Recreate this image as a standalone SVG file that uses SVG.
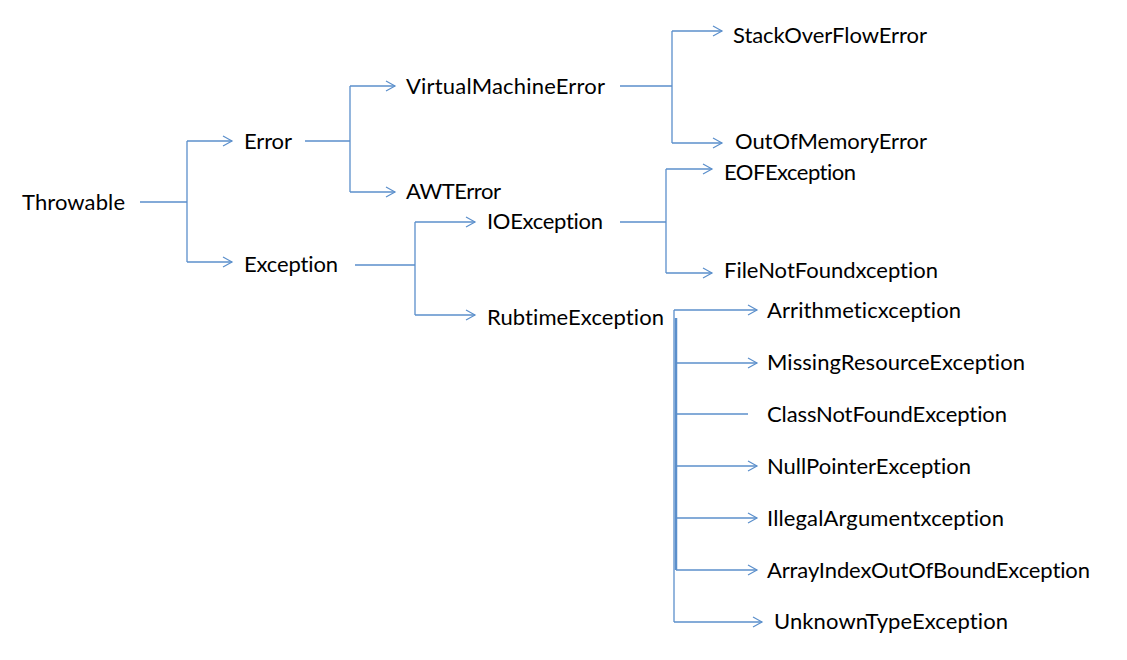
<svg xmlns="http://www.w3.org/2000/svg" width="1127" height="660" viewBox="0 0 1127 660">
<defs>
<marker id="arr" markerWidth="12" markerHeight="12" refX="10" refY="6" orient="auto" markerUnits="userSpaceOnUse">
<path d="M1,1 L10,6 L1,11" fill="none" stroke="#5b8fcb" stroke-width="1.2"/>
</marker>
<style>
.t{font-family:Lato,"Open Sans","Liberation Sans",sans-serif;font-size:22px;fill:#000;font-variant-ligatures:none;font-feature-settings:"liga" 0}
.c{fill:none;stroke:#5b8fcb;stroke-width:1.3}
.ca{fill:none;stroke:#5b8fcb;stroke-width:1.3;marker-end:url(#arr)}
</style>
</defs>
<rect width="1127" height="660" fill="#fff"/>
<g id="connectors">
<path class="c" d="M140,202 H187 M187,141 V262"/>
<path class="ca" d="M187,141 H232"/>
<path class="ca" d="M187,262 H232"/>
<path class="c" d="M305,141 H350 M350,86 V192"/>
<path class="ca" d="M350,86 H395"/>
<path class="ca" d="M350,192 H395"/>
<path class="c" d="M620,86 H672 M672,31 V143"/>
<path class="ca" d="M672,31 H722"/>
<path class="ca" d="M672,143 H722"/>
<path class="c" d="M355,265 H415 M415,222 V315"/>
<path class="ca" d="M415,222 H475"/>
<path class="ca" d="M415,315 H475"/>
<path class="c" d="M620,222 H666 M666,169 V273"/>
<path class="ca" d="M666,169 H712"/>
<path class="ca" d="M666,273 H712"/>
<path class="c" d="M674,310 V622"/>
<path class="c" d="M676,318 V570" style="stroke-width:2.5"/>
<path class="ca" d="M674,310 H757"/>
<path class="ca" d="M676,363 H757"/>
<path class="c" d="M676,414 H748"/>
<path class="ca" d="M676,466 H757"/>
<path class="ca" d="M676,518 H757"/>
<path class="ca" d="M676,570 H757"/>
<path class="ca" d="M674,622 H762"/>
</g>
<g id="throwable"><text class="t" x="22" y="210" textLength="103">Throwable</text></g>
<g id="error"><text class="t" x="244" y="149" textLength="48">Error</text></g>
<g id="virtualmachineerror"><text class="t" x="406" y="94" textLength="199">VirtualMachineError</text></g>
<g id="stackoverflowerror"><text class="t" x="733" y="43" textLength="194">StackOverFlowError</text></g>
<g id="outofmemoryerror"><text class="t" x="735" y="149" textLength="192">OutOfMemoryError</text></g>
<g id="awterror"><text class="t" x="406" y="199" textLength="95">AWTError</text></g>
<g id="exception"><text class="t" x="244" y="272" textLength="94">Exception</text></g>
<g id="ioexception"><text class="t" x="487" y="229" textLength="116">IOException</text></g>
<g id="eofexception"><text class="t" x="724" y="180" textLength="132">EOFException</text></g>
<g id="filenotfound"><text class="t" x="724" y="278" textLength="214">FileNotFoundxception</text></g>
<g id="rubtimeexception"><text class="t" x="487" y="325" textLength="177">RubtimeException</text></g>
<g id="arithmetic"><text class="t" x="767" y="318" textLength="194">Arrithmeticxception</text></g>
<g id="missingresource"><text class="t" x="767" y="370" textLength="258">MissingResourceException</text></g>
<g id="classnotfound"><text class="t" x="767" y="422" textLength="240">ClassNotFoundException</text></g>
<g id="nullpointer"><text class="t" x="767" y="474" textLength="204">NullPointerException</text></g>
<g id="illegalargument"><text class="t" x="767" y="526" textLength="237">IllegalArgumentxception</text></g>
<g id="arrayindex"><text class="t" x="767" y="578" textLength="323">ArrayIndexOutOfBoundException</text></g>
<g id="unknowntype"><text class="t" x="774" y="629" textLength="234">UnknownTypeException</text></g>
</svg>
